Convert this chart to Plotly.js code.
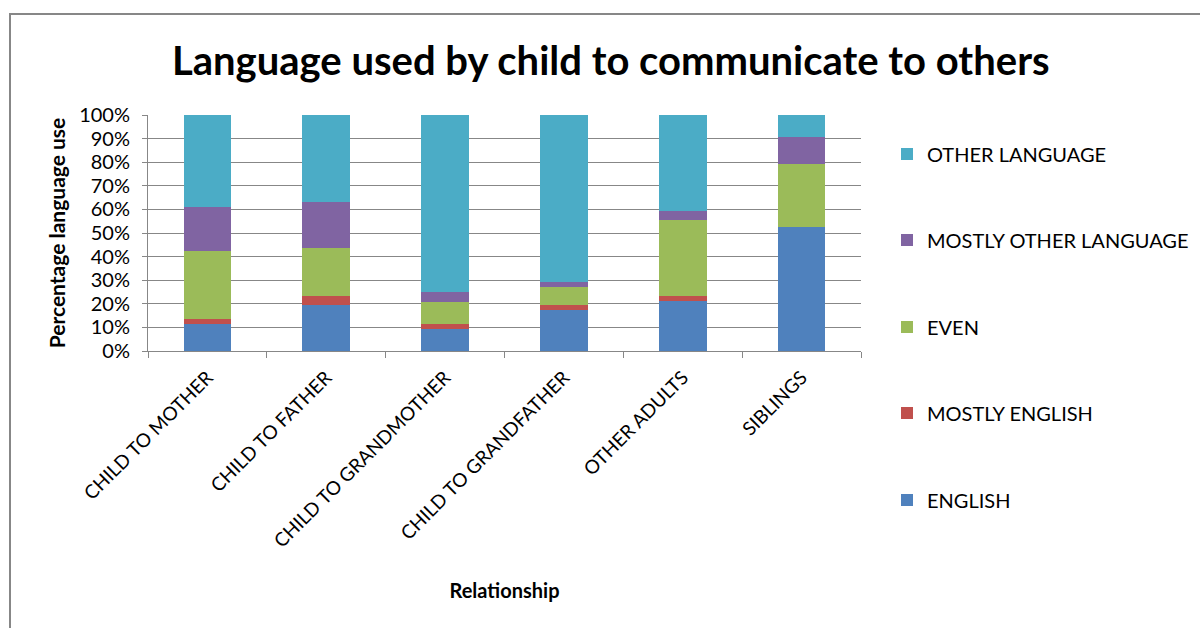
<!DOCTYPE html>
<html>
<head>
<meta charset="utf-8">
<script src="https://cdn.plot.ly/plotly-3.0.1.min.js"></script>
<style>
  html, body { margin: 0; padding: 0; background: #ffffff; overflow: hidden; }
  #wrap { position: relative; width: 1200px; height: 628px; }
  #chart { width: 1200px; height: 628px; }
  #frame { position: absolute; left: 9px; top: 13px; width: 1300px; height: 700px;
           border-left: 2px solid #878787; border-top: 2px solid #878787; pointer-events: none; }
</style>
</head>
<body>
<div id="wrap">
  <div id="chart"></div>
  <div id="frame"></div>
</div>
<script>
const categories = ["CHILD TO MOTHER", "CHILD TO FATHER", "CHILD TO GRANDMOTHER",
                    "CHILD TO GRANDFATHER", "OTHER ADULTS", "SIBLINGS"];
const english        = [11.3, 19.7,  9.4, 17.2, 21.1, 52.7];
const mostlyEnglish  = [ 2.1,  3.8,  1.9,  2.5,  2.0,  0.0];
const even           = [29.0, 20.0,  9.4,  7.3, 32.5, 26.7];
const mostlyOther    = [18.6, 19.5,  4.2,  2.3,  3.8, 11.2];
const otherLanguage  = [39.0, 37.0, 75.1, 70.7, 40.6,  9.4];
const tickVals = [0, 10, 20, 30, 40, 50, 60, 70, 80, 90, 100];
const tickText = ["0%", "10%", "20%", "30%", "40%", "50%", "60%", "70%", "80%", "90%", "100%"];

const seriesNames = ["ENGLISH", "MOSTLY ENGLISH", "EVEN", "MOSTLY OTHER LANGUAGE", "OTHER LANGUAGE"];
const seriesValues = [english, mostlyEnglish, even, mostlyOther, otherLanguage];
const seriesColors = ["#4F81BD", "#C0504D", "#9BBB59", "#8064A2", "#4BACC6"];

const FONT = "Lato, 'Open Sans', sans-serif";
// legend entry centres (px from top), one legend per series
const legendCentres = [500, 413, 327, 240, 154];

const traces = seriesNames.map((n, i) => ({
  type: "bar",
  name: n,
  x: categories,
  y: seriesValues[i],
  marker: { color: seriesColors[i], line: { width: 0 } },
  legend: i === 0 ? "legend" : "legend" + (i + 1),
  hoverinfo: "x+y+name"
}));

const layout = {
  width: 1200,
  height: 628,
  paper_bgcolor: "#ffffff",
  plot_bgcolor: "#ffffff",
  barmode: "stack",
  bargap: 0.6,
  margin: { l: 148, r: 339, t: 115, b: 276.5, pad: 0 },
  title: {
    text: "<b>Language used by child to communicate to others</b>",
    font: { family: FONT, size: 40, color: "#000000" },
    xref: "container", x: 0.509, xanchor: "center",
    yref: "container", y: 1 - 61 / 628, yanchor: "middle"
  },
  xaxis: {
    type: "category",
    tickangle: -45,
    tickson: "boundaries",
    ticks: "outside",
    ticklen: 6,
    tickcolor: "#878787",
    showline: true,
    linecolor: "#878787",
    linewidth: 1,
    showgrid: false,
    ticklabelshift: 0,
    ticklabelstandoff: 7,
    tickfont: { family: FONT, size: 19, color: "#000000" },
    title: { text: "<b>Relationship</b>", font: { family: FONT, size: 20, color: "#000000" }, standoff: 33 },
    automargin: false
  },
  yaxis: {
    range: [0, 100],
    tickvals: tickVals,
    ticktext: tickText,
    ticks: "outside",
    ticklen: 5,
    tickcolor: "#878787",
    showline: true,
    linecolor: "#878787",
    linewidth: 1,
    showgrid: true,
    gridcolor: "#878787",
    gridwidth: 1,
    zeroline: false,
    ticklabelstandoff: 8,
    tickfont: { family: FONT, size: 20, color: "#000000" },
    title: { text: "<b>Percentage language use</b>", font: { family: FONT, size: 21, color: "#000000" }, standoff: 7 },
    automargin: false
  },
  showlegend: true
};

seriesNames.forEach((n, i) => {
  const key = i === 0 ? "legend" : "legend" + (i + 1);
  layout[key] = {
    xref: "container", x: 887 / 1200, xanchor: "left",
    yref: "container", y: 1 - legendCentres[i] / 628, yanchor: "middle",
    font: { family: FONT, size: 20, color: "#000000" },
    bgcolor: "rgba(0,0,0,0)",
    itemwidth: 30
  };
});

Plotly.newPlot("chart", traces, layout, { staticPlot: true, displayModeBar: false });
</script>
</body>
</html>
